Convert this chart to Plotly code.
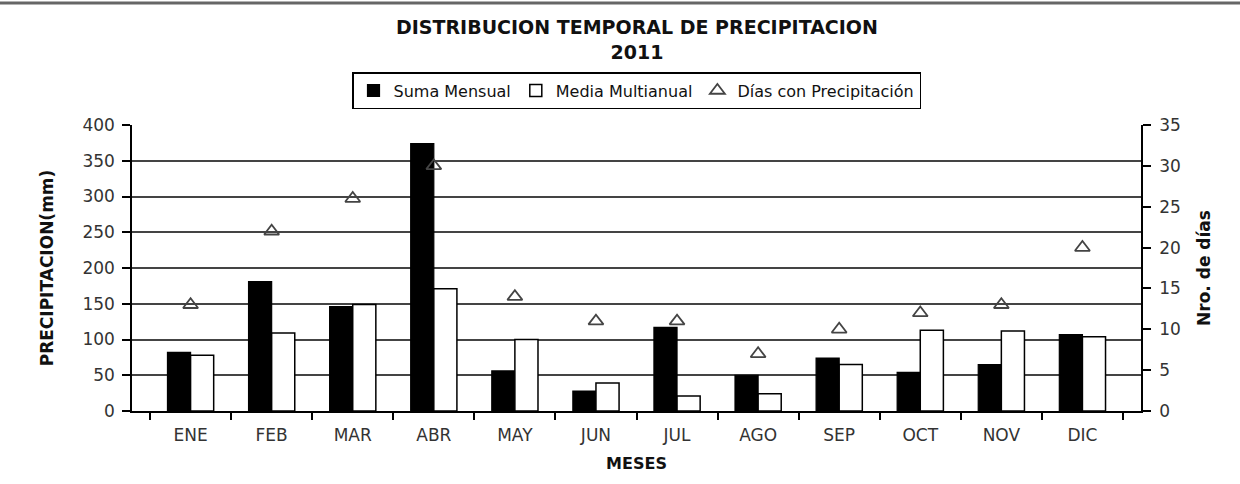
import plotly.graph_objects as go

# Monthly precipitation, 2011
meses = ["ENE", "FEB", "MAR", "ABR", "MAY", "JUN", "JUL", "AGO", "SEP", "OCT", "NOV", "DIC"]
suma_mensual = [82, 181, 146, 374, 56, 28, 117, 50, 74, 54, 65, 107]
media_multianual = [78, 109, 149, 171, 100, 39, 21, 24, 65, 113, 112, 104]
dias_precipitacion = [13, 22, 26, 30, 14, 11, 11, 7, 10, 12, 13, 20]

FONT = "DejaVu Sans"

fig = go.Figure()

fig.add_trace(go.Bar(
    x=meses, y=suma_mensual, name="Suma Mensual",
    marker=dict(color="black", line=dict(color="black", width=1.2)),
))
fig.add_trace(go.Bar(
    x=meses, y=media_multianual, name="Media Multianual",
    marker=dict(color="white", line=dict(color="black", width=1.5)),
))
fig.add_trace(go.Scatter(
    x=meses, y=dias_precipitacion, name="Días con Precipitación",
    mode="markers", yaxis="y2",
    marker=dict(symbol="triangle-up-open", size=13, color="#444",
                line=dict(color="#444", width=1.8)),
))

fig.update_layout(
    width=1240, height=484,
    margin=dict(l=132, r=99, t=125, b=73),
    paper_bgcolor="white", plot_bgcolor="white",
    barmode="group", bargap=0.43, bargroupgap=0,
    font=dict(family=FONT, color="#222"),
    legend=dict(
        orientation="h", x=0.5, xanchor="center", y=1.185, yanchor="top",
        bordercolor="black", borderwidth=1.5, bgcolor="white",
        font=dict(family=FONT, size=16, color="#111"),
        itemwidth=30, tracegroupgap=0,
    ),
    xaxis=dict(
        type="category", tickson="boundaries",
        showline=True, linecolor="black", linewidth=1.5,
        ticks="outside", ticklen=7, tickcolor="black", tickwidth=1.5,
        ticklabelstandoff=8,
        tickfont=dict(family=FONT, size=17, color="#333"),
        title=dict(text="<b>MESES</b>", font=dict(family=FONT, size=16, color="#111"),
                   standoff=14),
        showgrid=False,
    ),
    yaxis=dict(
        range=[0, 400], dtick=50,
        showline=True, linecolor="black", linewidth=1.5,
        ticks="outside", ticklen=8, tickcolor="black", tickwidth=1.5,
        ticklabelstandoff=4,
        showgrid=True, gridcolor="#444", gridwidth=1.5,
        zeroline=False,
        tickfont=dict(family=FONT, size=17, color="#333"),
        title=dict(text="<b>PRECIPITACION(mm)</b>",
                   font=dict(family=FONT, size=17, color="#111"), standoff=24),
    ),
    yaxis2=dict(
        range=[0, 35], dtick=5, overlaying="y", side="right",
        showline=True, linecolor="black", linewidth=1.5,
        ticks="outside", ticklen=8, tickcolor="black", tickwidth=1.5,
        ticklabelstandoff=5,
        showgrid=False, zeroline=False,
        tickfont=dict(family=FONT, size=17, color="#333"),
        title=dict(text="<b>Nro. de días</b>",
                   font=dict(family=FONT, size=17, color="#111"), standoff=18),
    ),
    showlegend=True,
)

# Two-line chart heading centred over the plot area
fig.add_annotation(
    text="<b>DISTRIBUCION TEMPORAL DE PRECIPITACION<br>2011</b>",
    xref="paper", yref="paper", x=0.5, y=1.3,
    xanchor="center", yanchor="middle", showarrow=False,
    font=dict(family=FONT, size=19, color="#111"),
)

# Rule along the top edge of the page
fig.add_shape(type="line", xref="paper", yref="paper",
              x0=-0.14, x1=1.1, y0=1.427, y1=1.427,
              line=dict(color="#666", width=3))

fig.write_html("out.html")
